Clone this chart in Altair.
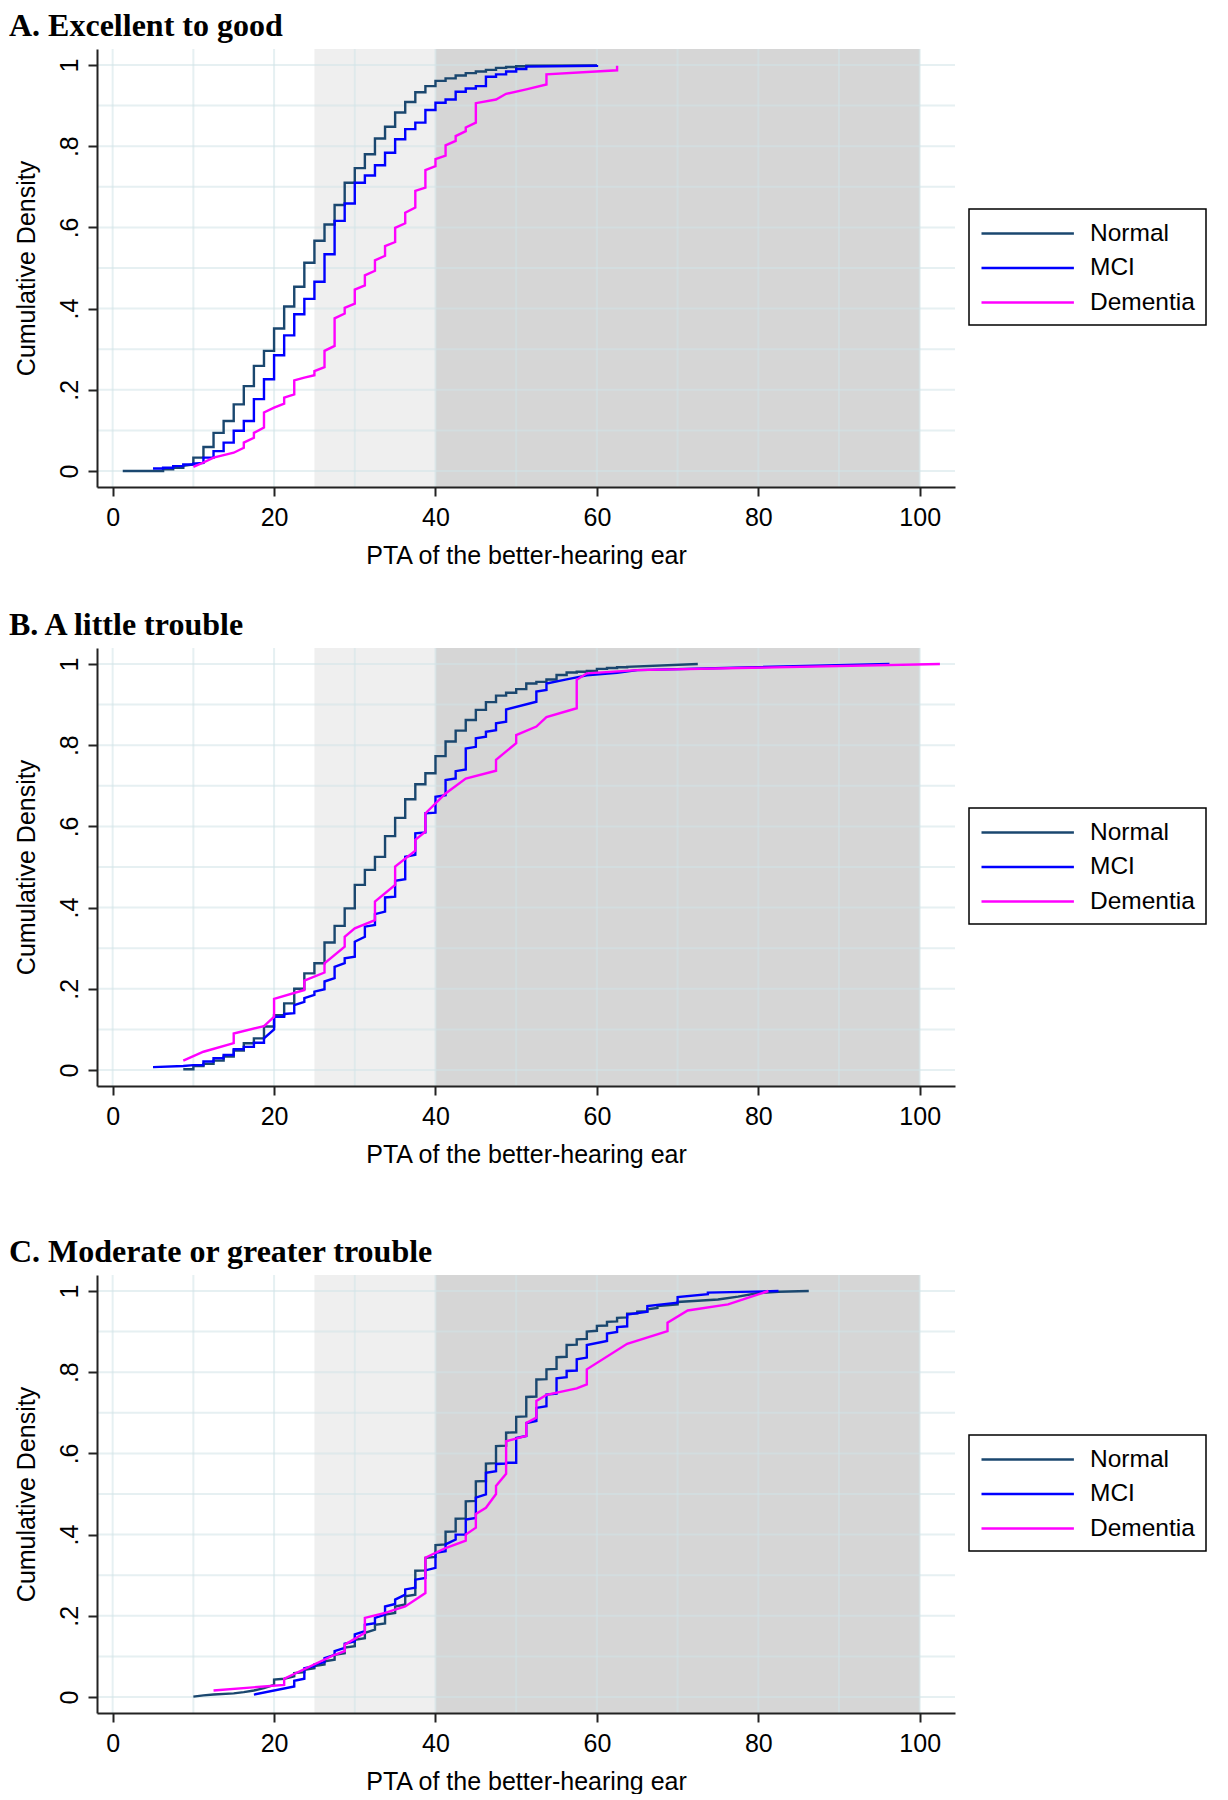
import altair as alt
import pandas as pd

# ---------------- text / categories ----------------
SERIES = ["Normal", "MCI", "Dementia"]
SERIES_COLORS = ["#1a476f", "#0000ff", "#ff00ff"]
PANEL_TITLES = ["A. Excellent to good", "B. A little trouble", "C. Moderate or greater trouble"]
X_TITLE = "PTA of the better-hearing ear"
Y_TITLE = "Cumulative Density"
X_TICKS = [0, 20, 40, 60, 80, 100]
Y_TICKS = [0, 0.2, 0.4, 0.6, 0.8, 1.0]
GRID_X = [0, 10, 20, 30, 40, 50, 60, 70, 80, 90, 100]
GRID_Y = [0, 0.1, 0.2, 0.3, 0.4, 0.5, 0.6, 0.7, 0.8, 0.9, 1.0]
BAND_START = [25, 40]
BAND_END = [40, 100]
BAND_FILL = ["#efefef", "#d6d6d6"]
X_DOMAIN = [-1.94, 104.37]
Y_DOMAIN = [-0.0394, 1.0394]

# ---------------- data: PTA value, cumulative value at bottom / top of each point ----------------
# Panel A
A_NORMAL_X = [1.25, 6.25, 7.5, 8.75, 10, 11.25, 12.5, 13.75, 15, 16.25, 17.5, 18.75, 20, 21.25, 22.5, 23.75, 25, 26.25, 27.5, 28.75, 30, 31.25, 32.5, 33.75, 35, 36.25, 37.5, 38.75, 40, 41.25, 42.5, 43.75, 45, 46.25, 47.5, 48.75, 50, 51.25, 60]
A_NORMAL_LO = [0.000, 0.000, 0.004, 0.008, 0.016, 0.033, 0.059, 0.094, 0.123, 0.164, 0.209, 0.259, 0.296, 0.351, 0.405, 0.454, 0.513, 0.567, 0.607, 0.655, 0.710, 0.746, 0.780, 0.819, 0.848, 0.883, 0.909, 0.933, 0.948, 0.961, 0.967, 0.974, 0.980, 0.984, 0.988, 0.993, 0.995, 0.997, 0.999]
A_NORMAL_HI = [0.000, 0.004, 0.008, 0.013, 0.033, 0.059, 0.094, 0.123, 0.164, 0.209, 0.259, 0.296, 0.351, 0.405, 0.454, 0.513, 0.567, 0.607, 0.655, 0.710, 0.746, 0.780, 0.819, 0.848, 0.883, 0.909, 0.933, 0.948, 0.961, 0.967, 0.974, 0.980, 0.984, 0.988, 0.993, 0.995, 0.997, 0.998, 1.000]

A_MCI_X = [5, 6.25, 7.5, 8.75, 10, 11.25, 12.5, 13.75, 15, 16.25, 17.5, 18.75, 20, 21.25, 22.5, 23.75, 25, 26.25, 27.5, 28.75, 30, 31.25, 32.5, 33.75, 35, 36.25, 37.5, 38.75, 40, 41.25, 42.5, 43.75, 45, 46.25, 47.5, 48.75, 50, 51.25, 60]
A_MCI_LO = [0.006, 0.006, 0.008, 0.012, 0.016, 0.020, 0.033, 0.049, 0.070, 0.099, 0.123, 0.177, 0.226, 0.285, 0.334, 0.386, 0.424, 0.466, 0.534, 0.616, 0.659, 0.710, 0.728, 0.753, 0.784, 0.817, 0.842, 0.858, 0.889, 0.907, 0.915, 0.934, 0.942, 0.948, 0.971, 0.977, 0.984, 0.990, 0.998]
A_MCI_HI = [0.006, 0.008, 0.012, 0.016, 0.018, 0.033, 0.049, 0.070, 0.099, 0.123, 0.177, 0.226, 0.285, 0.334, 0.386, 0.424, 0.466, 0.534, 0.616, 0.659, 0.710, 0.728, 0.753, 0.784, 0.817, 0.842, 0.858, 0.889, 0.907, 0.915, 0.934, 0.942, 0.948, 0.971, 0.977, 0.984, 0.990, 0.996, 1.000]

A_DEM_X = [10, 11.25, 12.5, 15, 16.25, 17.5, 18.75, 20, 21.25, 22.5, 23.75, 25, 26.25, 27.5, 28.75, 30, 31.25, 32.5, 33.75, 35, 36.25, 37.5, 38.75, 40, 41.25, 42.5, 43.75, 45, 47.5, 48.75, 51.25, 53.75, 62.5]
A_DEM_LO = [0.010, 0.021, 0.033, 0.045, 0.057, 0.082, 0.107, 0.156, 0.166, 0.189, 0.230, 0.236, 0.256, 0.308, 0.388, 0.412, 0.457, 0.493, 0.530, 0.564, 0.610, 0.649, 0.698, 0.751, 0.777, 0.813, 0.837, 0.858, 0.915, 0.929, 0.940, 0.952, 0.987]
A_DEM_HI = [0.010, 0.021, 0.033, 0.045, 0.070, 0.094, 0.144, 0.156, 0.181, 0.223, 0.230, 0.246, 0.296, 0.376, 0.402, 0.447, 0.482, 0.519, 0.554, 0.599, 0.636, 0.690, 0.741, 0.768, 0.802, 0.825, 0.846, 0.906, 0.915, 0.929, 0.940, 0.977, 0.998]

# Panel B
B_NORMAL_X = [8.75, 10, 11.25, 12.5, 13.75, 15, 16.25, 17.5, 18.75, 20, 21.25, 22.5, 23.75, 25, 26.25, 27.5, 28.75, 30, 31.25, 32.5, 33.75, 35, 36.25, 37.5, 38.75, 40, 41.25, 42.5, 43.75, 45, 46.25, 47.5, 48.75, 50, 51.25, 52.5, 53.75, 55, 56.25, 57.5, 58.75, 60, 61.25, 62.5, 63.75, 72.5]
B_NORMAL_LO = [0.002, 0.002, 0.010, 0.015, 0.023, 0.033, 0.048, 0.066, 0.078, 0.107, 0.135, 0.164, 0.200, 0.238, 0.263, 0.314, 0.355, 0.398, 0.456, 0.493, 0.525, 0.576, 0.621, 0.667, 0.704, 0.731, 0.773, 0.809, 0.836, 0.862, 0.887, 0.906, 0.922, 0.929, 0.938, 0.952, 0.956, 0.962, 0.973, 0.979, 0.981, 0.983, 0.988, 0.990, 0.992, 1.000]
B_NORMAL_HI = [0.002, 0.010, 0.015, 0.023, 0.033, 0.048, 0.066, 0.078, 0.107, 0.135, 0.164, 0.200, 0.238, 0.263, 0.314, 0.355, 0.398, 0.456, 0.493, 0.525, 0.576, 0.621, 0.667, 0.704, 0.731, 0.773, 0.809, 0.836, 0.862, 0.887, 0.906, 0.922, 0.929, 0.938, 0.952, 0.956, 0.962, 0.973, 0.979, 0.981, 0.983, 0.988, 0.990, 0.992, 0.993, 1.000]

B_MCI_X = [5, 8.75, 10, 11.25, 12.5, 13.75, 15, 16.25, 17.5, 18.75, 20, 21.25, 22.5, 23.75, 25, 26.25, 27.5, 28.75, 30, 31.25, 32.5, 33.75, 35, 36.25, 37.5, 38.75, 40, 41.25, 42.5, 43.75, 45, 46.25, 47.5, 48.75, 52.5, 53.75, 56.25, 58.75, 62.5, 65, 96.25]
B_MCI_LO = [0.007, 0.010, 0.012, 0.012, 0.021, 0.029, 0.037, 0.051, 0.057, 0.067, 0.100, 0.131, 0.140, 0.168, 0.185, 0.199, 0.226, 0.263, 0.279, 0.328, 0.357, 0.390, 0.427, 0.470, 0.530, 0.585, 0.634, 0.677, 0.718, 0.740, 0.796, 0.821, 0.837, 0.858, 0.907, 0.936, 0.962, 0.972, 0.978, 0.985, 1.000]
B_MCI_HI = [0.007, 0.010, 0.012, 0.021, 0.029, 0.037, 0.051, 0.057, 0.067, 0.078, 0.131, 0.138, 0.160, 0.177, 0.193, 0.218, 0.254, 0.275, 0.316, 0.353, 0.384, 0.425, 0.466, 0.525, 0.583, 0.632, 0.673, 0.714, 0.736, 0.792, 0.817, 0.833, 0.854, 0.888, 0.932, 0.952, 0.962, 0.972, 0.978, 0.985, 1.000]

B_DEM_X = [8.75, 11.25, 15, 18.75, 20, 23.75, 26.25, 28.75, 30, 32.5, 35, 37.5, 38.75, 41.25, 43.75, 47.5, 50, 52.5, 53.75, 57.5, 58.75, 65, 102.5]
B_DEM_LO = [0.023, 0.045, 0.066, 0.108, 0.131, 0.197, 0.240, 0.304, 0.349, 0.369, 0.456, 0.540, 0.587, 0.681, 0.718, 0.737, 0.805, 0.846, 0.869, 0.891, 0.977, 0.985, 1.000]
B_DEM_HI = [0.023, 0.045, 0.090, 0.108, 0.175, 0.220, 0.263, 0.328, 0.349, 0.415, 0.501, 0.567, 0.632, 0.681, 0.718, 0.764, 0.825, 0.846, 0.869, 0.961, 0.977, 0.985, 1.000]

# Panel C
C_NORMAL_X = [10, 11.25, 12.5, 15, 16.25, 17.5, 18.75, 20, 21.25, 22.5, 23.75, 25, 26.25, 27.5, 28.75, 30, 31.25, 32.5, 33.75, 35, 36.25, 37.5, 38.75, 40, 41.25, 42.5, 43.75, 45, 46.25, 47.5, 48.75, 50, 51.25, 52.5, 53.75, 55, 56.25, 57.5, 58.75, 60, 61.25, 62.5, 63.75, 65, 66.25, 67.5, 70, 72.5, 75, 77.5, 80, 82.5, 86.25]
C_NORMAL_LO = [0.001, 0.004, 0.006, 0.009, 0.012, 0.016, 0.022, 0.030, 0.045, 0.051, 0.061, 0.071, 0.080, 0.092, 0.108, 0.125, 0.145, 0.166, 0.181, 0.207, 0.228, 0.252, 0.312, 0.345, 0.376, 0.408, 0.440, 0.483, 0.532, 0.576, 0.619, 0.652, 0.691, 0.740, 0.783, 0.808, 0.838, 0.868, 0.882, 0.902, 0.915, 0.925, 0.935, 0.945, 0.950, 0.958, 0.967, 0.976, 0.979, 0.986, 0.995, 0.998, 1.000]
C_NORMAL_HI = [0.001, 0.004, 0.006, 0.009, 0.012, 0.016, 0.022, 0.043, 0.045, 0.059, 0.067, 0.076, 0.088, 0.104, 0.122, 0.141, 0.158, 0.178, 0.203, 0.223, 0.248, 0.311, 0.343, 0.374, 0.407, 0.439, 0.482, 0.531, 0.575, 0.618, 0.651, 0.690, 0.739, 0.782, 0.807, 0.837, 0.867, 0.881, 0.900, 0.914, 0.924, 0.934, 0.944, 0.949, 0.955, 0.963, 0.973, 0.976, 0.979, 0.986, 0.995, 0.998, 1.000]

C_MCI_X = [17.5, 22.5, 23.75, 25, 26.25, 27.5, 28.75, 30, 31.25, 32.5, 33.75, 35, 36.25, 37.5, 38.75, 40, 41.25, 42.5, 43.75, 45, 46.25, 47.5, 48.75, 50, 51.25, 52.5, 53.75, 55, 56.25, 57.5, 58.75, 61.25, 62.5, 63.75, 66.25, 70, 73.75, 82.5]
C_MCI_LO = [0.006, 0.026, 0.045, 0.076, 0.086, 0.104, 0.121, 0.137, 0.162, 0.182, 0.203, 0.229, 0.252, 0.269, 0.293, 0.318, 0.359, 0.388, 0.400, 0.441, 0.499, 0.556, 0.575, 0.577, 0.643, 0.680, 0.716, 0.747, 0.788, 0.804, 0.836, 0.877, 0.899, 0.913, 0.949, 0.971, 0.992, 1.000]
C_MCI_HI = [0.006, 0.040, 0.071, 0.080, 0.096, 0.113, 0.131, 0.154, 0.178, 0.195, 0.223, 0.240, 0.265, 0.289, 0.312, 0.355, 0.376, 0.400, 0.437, 0.491, 0.552, 0.574, 0.577, 0.638, 0.675, 0.712, 0.745, 0.785, 0.803, 0.832, 0.867, 0.895, 0.911, 0.942, 0.963, 0.985, 0.996, 1.000]

C_DEM_X = [12.5, 21.25, 27.5, 28.75, 31.25, 33.75, 36.25, 38.75, 41.25, 43.75, 45, 46.25, 47.5, 48.75, 51.25, 52.5, 53.75, 57.5, 58.75, 63.75, 68.75, 71.25, 76.25, 81.25]
C_DEM_LO = [0.016, 0.030, 0.104, 0.113, 0.158, 0.207, 0.223, 0.256, 0.367, 0.385, 0.417, 0.466, 0.500, 0.550, 0.643, 0.688, 0.744, 0.760, 0.770, 0.870, 0.901, 0.952, 0.967, 1.000]
C_DEM_HI = [0.016, 0.045, 0.104, 0.129, 0.195, 0.207, 0.223, 0.343, 0.367, 0.400, 0.451, 0.466, 0.520, 0.630, 0.675, 0.729, 0.744, 0.760, 0.807, 0.870, 0.922, 0.952, 0.967, 1.000]

PANEL_DATA = [
    [(A_NORMAL_X, A_NORMAL_LO, A_NORMAL_HI), (A_MCI_X, A_MCI_LO, A_MCI_HI), (A_DEM_X, A_DEM_LO, A_DEM_HI)],
    [(B_NORMAL_X, B_NORMAL_LO, B_NORMAL_HI), (B_MCI_X, B_MCI_LO, B_MCI_HI), (B_DEM_X, B_DEM_LO, B_DEM_HI)],
    [(C_NORMAL_X, C_NORMAL_LO, C_NORMAL_HI), (C_MCI_X, C_MCI_LO, C_MCI_HI), (C_DEM_X, C_DEM_LO, C_DEM_HI)],
]

# ---------------- layout constants ----------------
W, H = 858, 438
FONT = "Liberation Sans"
TITLE_FONT = "Liberation Serif"
AXIS_COLOR = "#222222"
GRID_COLOR = "#d2e3e8"

x_scale = alt.Scale(domain=X_DOMAIN, nice=False, zero=False)
y_scale = alt.Scale(domain=Y_DOMAIN, nice=False, zero=False)


def build_rows(series_data):
    rows = []
    for name, (xs, lo, hi) in zip(SERIES, series_data):
        if not (len(xs) == len(lo) == len(hi)):
            raise ValueError(f"length mismatch in {name}: {len(xs)} {len(lo)} {len(hi)}")
        for k, (x, a, b) in enumerate(zip(xs, lo, hi)):
            rows.append({"group": name, "x": x, "y": a, "i": 2 * k})
            rows.append({"group": name, "x": x, "y": b, "i": 2 * k + 1})
    return pd.DataFrame(rows)


x_axis = alt.Axis(
    values=X_TICKS, format="d", grid=False,
    labelFont=FONT, labelFontSize=25, labelColor="black", labelPadding=9,
    labelFlush=False, labelOverlap=False,
    tickSize=9, tickWidth=2, tickColor=AXIS_COLOR,
    domainColor=AXIS_COLOR, domainWidth=2,
    title=X_TITLE, titleFont=FONT, titleFontSize=25, titleFontWeight="normal",
    titleColor="black", titleY=76, titleBaseline="alphabetic", zindex=1,
)

y_axis = alt.Axis(
    values=Y_TICKS, grid=False,
    labelExpr="datum.value == 0 ? '0' : (datum.value == 1 ? '1' : substring(format(datum.value, '.1f'), 1))",
    labelFont=FONT, labelFontSize=25, labelColor="black", labelPadding=11,
    labelAngle=270, labelAlign="center", labelBaseline="alphabetic",
    labelFlush=False, labelOverlap=False,
    tickSize=9, tickWidth=2, tickColor=AXIS_COLOR,
    domainColor=AXIS_COLOR, domainWidth=2,
    title=Y_TITLE, titleFont=FONT, titleFontSize=25, titleFontWeight="normal",
    titleColor="black", titleAngle=270, titleX=-63, titleY=H / 2,
    titleAlign="center", titleBaseline="alphabetic", zindex=1,
)

legend = alt.Legend(
    title=None, orient="none", legendX=872, legendY=160, direction="vertical",
    symbolType="M-1,0H6.7", symbolSize=576, symbolStrokeWidth=2.5,
    labelOffset=83, labelFont=FONT, labelFontSize=24.5, labelColor="black",
    rowPadding=9.5, padding=11, strokeColor="black", fillColor="white",
)

bands_df = pd.DataFrame({"x1": BAND_START, "x2": BAND_END, "fill": BAND_FILL})
gridx_df = pd.DataFrame({"g": GRID_X})
gridy_df = pd.DataFrame({"g": GRID_Y})


def panel(title, series_data):
    df = build_rows(series_data)
    bands = alt.Chart(bands_df).mark_rect().encode(
        x=alt.X("x1:Q", scale=x_scale, axis=x_axis),
        x2="x2:Q",
        y=alt.value(0),
        y2=alt.value(H),
        fill=alt.Fill("fill:N", scale=None, legend=None),
    )
    vgrid = alt.Chart(gridx_df).mark_rule(color=GRID_COLOR, strokeWidth=2, opacity=0.55).encode(
        x=alt.X("g:Q", scale=x_scale, axis=x_axis)
    )
    hgrid = alt.Chart(gridy_df).mark_rule(color=GRID_COLOR, strokeWidth=2, opacity=0.55).encode(
        y=alt.Y("g:Q", scale=y_scale, axis=y_axis)
    )
    color = alt.Color("group:N", scale=alt.Scale(domain=SERIES, range=SERIES_COLORS), legend=legend)
    layers = [bands, vgrid, hgrid]
    for s in SERIES:
        layers.append(
            alt.Chart(df).transform_filter(alt.datum.group == s).mark_line(strokeWidth=2.4).encode(
                x=alt.X("x:Q", scale=x_scale, axis=x_axis),
                y=alt.Y("y:Q", scale=y_scale, axis=y_axis),
                color=color,
                order=alt.Order("i:Q"),
            )
        )
    return alt.layer(*layers).properties(
        width=W, height=H,
        title=alt.TitleParams(
            text=title, anchor="start", frame="group", dx=-88, offset=5,
            font=TITLE_FONT, fontSize=32, fontWeight="bold", color="black",
        ),
    )


pA = panel(PANEL_TITLES[0], PANEL_DATA[0])
pB = panel(PANEL_TITLES[1], PANEL_DATA[1])
pC = panel(PANEL_TITLES[2], PANEL_DATA[2])

top = alt.vconcat(pA, pB, spacing=41).resolve_scale(color="independent")
chart = (
    alt.vconcat(top, pC, spacing=69)
    .resolve_scale(color="independent")
    .properties(padding={"left": 1, "top": 2, "right": 0, "bottom": 0})
    .configure(background="white", font=FONT)
    .configure_view(stroke=None)
    .configure_legend(strokeWidth=1.5)
)

chart.save("out.html", embed_options={"renderer": "svg", "actions": False})
